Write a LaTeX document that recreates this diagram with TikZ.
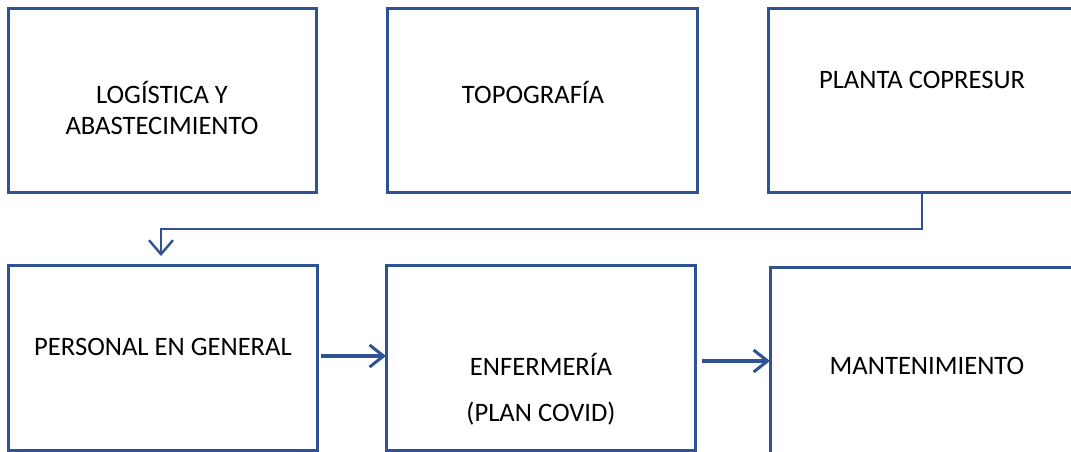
\documentclass[tikz,border=0pt]{standalone}
\usepackage{fontspec}
\setmainfont{Carlito}
\usetikzlibrary{arrows.meta,calc}
\definecolor{boxblue}{RGB}{47,82,148}
\tikzset{
  box/.style={draw=boxblue, line width=3pt, inner sep=0pt},
  lbl/.style={font=\fontsize{26.6}{31}\selectfont, align=center, inner sep=0pt, text=black},
  conn/.style={draw=boxblue, line width=2.2pt, -{Straight Barb[length=14pt,width=24pt,line width=2.4pt]}},
  fat/.style={draw=boxblue, line width=3.4pt, -{Straight Barb[length=14pt,width=22pt,line width=3pt]}}
}
\begin{document}
\begin{tikzpicture}[x=1pt,y=-1pt]
\useasboundingbox (0,0) rectangle (1071,451);
% boxes
\draw[box] (8,8) rectangle (316,192) node[pos=0.5] (b1) {};
\draw[box] (387,8) rectangle (697,192) node[pos=0.5] (b2) {};
\draw[box] (768,8) rectangle (1085,192) node[pos=0.5] (b3) {};
\draw[box] (8,265) rectangle (317,450) node[pos=0.5] (b4) {};
\draw[box] (386,265) rectangle (695,450) node[pos=0.5] (b5) {};
\draw[box] (770,267) rectangle (1085,470) node[pos=0.5] (b6) {};
% texts
\node[lbl] (t1) at (162,108) {LOGÍSTICA Y\\[0pt]ABASTECIMIENTO};
\node[lbl] (t2) at (533,92) {TOPOGRAFÍA};
\node[lbl] (t3) at (922,80) {PLANTA COPRESUR};
\node[lbl] (t4) at (163,347) {PERSONAL EN GENERAL};
\node[lbl] (t5) at (541,364) {ENFERMERÍA};
\node[lbl] (t5b) at (541,414) {(PLAN COVID)};
\node[lbl] (t6) at (927,366) {MANTENIMIENTO};
% connectors
\coordinate (c1) at (922,192);
\coordinate (c2) at (922,229);
\coordinate (c3) at (161,229);
\coordinate (c4) at (161,256);
\draw[conn] (c1) -- (c2) -- (c3) -- (c4);
\coordinate (a1) at (321,356);
\coordinate (a2) at (386,356);
\draw[fat] (a1) -- (a2);
\coordinate (a3) at (702,361);
\coordinate (a4) at (770,361);
\draw[fat] (a3) -- (a4);
\end{tikzpicture}
\end{document}
